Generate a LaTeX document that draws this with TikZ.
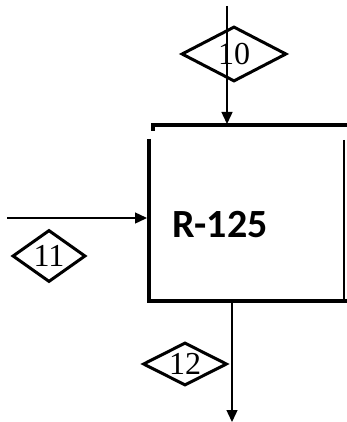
\documentclass[tikz,border=0pt]{standalone}
\usepackage{fontspec}
\setmainfont{Liberation Serif}
\newfontfamily\labelfont{Carlito}
\usetikzlibrary{arrows.meta, shapes.geometric}
\tikzset{
  every picture/.style={line width=1.4pt},
  stream/.style={diamond, draw, line width=3pt, inner sep=0pt, aspect=2, font=\fontsize{32}{34}\selectfont},
  flow/.style={-{Triangle[length=12pt, width=11pt]}, line width=1.4pt},
  wall/.style={line width=4.5pt},
  thinwall/.style={line width=1.8pt},
  tag/.style={font=\labelfont\bfseries\fontsize{40}{46}\selectfont},
}
\begin{document}
\begin{tikzpicture}[x=1pt, y=-1pt]
  \useasboundingbox (0,0) rectangle (347,422);
  % reactor box, drawn as separate edges
  \draw[wall] (153,131) -- (153,125) -- (347,125);
  \draw[wall] (149,139) -- (149,301) -- (347,301);
  \draw[thinwall] (344,140) -- (344,299);
  \node[tag] (r125) at (220,225) {R-125};
  % stream points
  \coordinate (in10) at (227,6);
  \coordinate (top) at (227,124);
  \coordinate (in11) at (7,218);
  \coordinate (left) at (147,218);
  \coordinate (bot) at (232,303);
  \coordinate (out12) at (232,422);
  \draw[flow] (in10) -- (top);
  \draw[flow] (in11) -- (left);
  \draw[flow] (bot) -- (out12);
  % stream labels
  \node[stream, minimum width=105pt, minimum height=55pt] (s10) at (234,54) {10};
  \node[stream, minimum width=68pt, minimum height=52pt] (s11) at (49,256) {11};
  \node[stream, minimum width=84pt, minimum height=43pt] (s12) at (185,364) {12};
\end{tikzpicture}
\end{document}
